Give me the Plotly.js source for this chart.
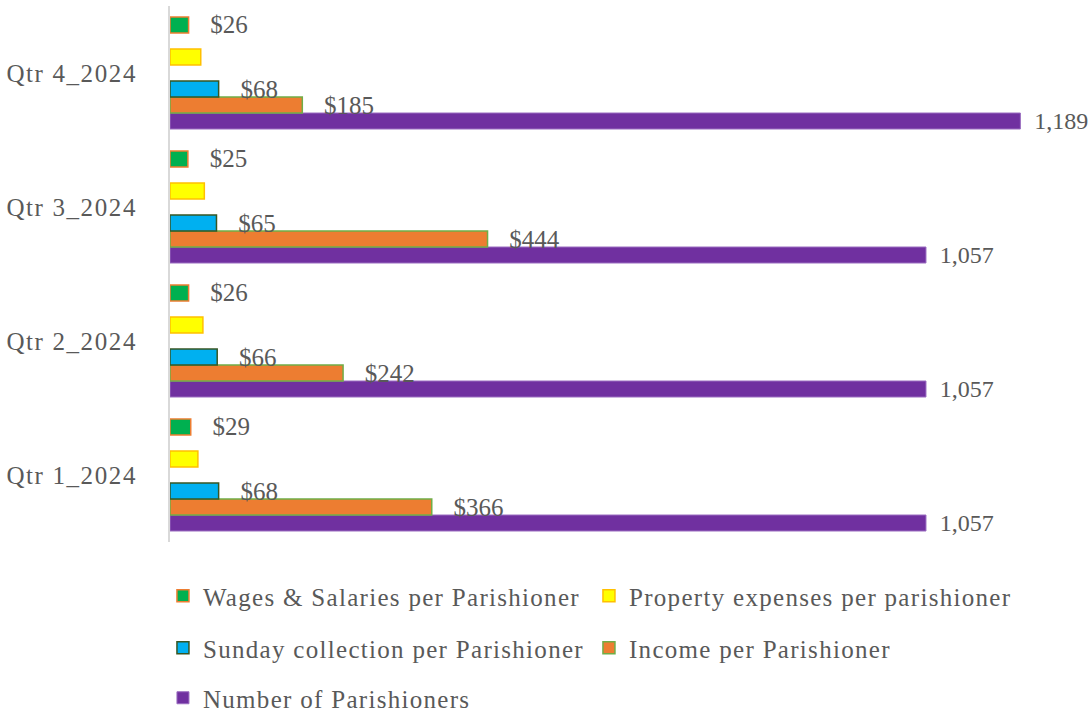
<!DOCTYPE html>
<html>
<head>
<meta charset="utf-8">
<script src="https://cdn.plot.ly/plotly-3.0.1.min.js"></script>
<style>
html,body{margin:0;padding:0;background:#fff;}
#chart{width:1090px;height:713px;}
</style>
</head>
<body>
<div id="chart"></div>
<script>
// Data
const quarters = ["Qtr 1_2024", "Qtr 2_2024", "Qtr 3_2024", "Qtr 4_2024"];
const wagesPerParishioner = [29, 26, 25, 26];
const propertyPerParishioner = [39, 46, 48, 43];
const sundayPerParishioner = [68, 66, 65, 68];
const incomePerParishioner = [366, 242, 444, 185];
const numberOfParishioners = [1057, 1057, 1057, 1189];
const emptySlot = [null, null, null, null];
const seriesNames = ["Wages & Salaries per Parishioner", "Property expenses per parishioner",
  "Sunday collection per Parishioner", "Income per Parishioner", "Number of Parishioners"];

const FONT = "Liberation Serif, DejaVu Serif, serif";
const TXT = "#595959";
const pad3 = "\u00a0\u00a0\u00a0";
const padNum = "\u00a0\u2009";

function barTrace(name, values, fill, line, lw, opts) {
  return Object.assign({
    type: "bar", orientation: "h", name: name, x: values, y: quarters,
    marker: {color: fill, line: {color: line, width: lw}},
    textposition: "outside", cliponaxis: false, constraintext: "none",
    textfont: {family: FONT, size: 25, color: TXT},
    hoverinfo: "x+name"
  }, opts || {});
}

const traces = [
  barTrace(seriesNames[4], numberOfParishioners, "#7030a0", "#9a6cc0", 1,
    {texttemplate: padNum + "%{x:,}", legend: "legend3", legendrank: 5,
     textfont: {family: FONT, size: 24, color: TXT}}),
  barTrace(seriesNames[3], incomePerParishioner, "#ed7d31", "#70ad47", 1.5,
    {texttemplate: pad3 + "$%{x}", legend: "legend2", legendrank: 4}),
  barTrace(seriesNames[2], sundayPerParishioner, "#00b0f0", "#375623", 1.5,
    {texttemplate: pad3 + "$%{x}", legend: "legend2", legendrank: 3}),
  barTrace("spacer1", emptySlot, "rgba(0,0,0,0)", "rgba(0,0,0,0)", 0,
    {showlegend: false, hoverinfo: "skip", textposition: "none"}),
  barTrace(seriesNames[1], propertyPerParishioner, "#ffff00", "#ffc000", 1.5,
    {textposition: "none", legend: "legend", legendrank: 2}),
  barTrace("spacer2", emptySlot, "rgba(0,0,0,0)", "rgba(0,0,0,0)", 0,
    {showlegend: false, hoverinfo: "skip", textposition: "none"}),
  barTrace(seriesNames[0], wagesPerParishioner, "#00b050", "#ed7d31", 1.5,
    {texttemplate: pad3 + "$%{x}", legend: "legend", legendrank: 1})
];

const legendBase = {
  orientation: "h", xref: "container", yref: "container",
  x: 0.1495, xanchor: "left", yanchor: "middle",
  font: {family: FONT, size: 25, color: TXT},
  entrywidth: 381, bgcolor: "rgba(0,0,0,0)", borderwidth: 0,
  traceorder: "normal"
};

const layout = {
  width: 1090, height: 713,
  margin: {l: 170, r: 26, t: 6, b: 171},
  paper_bgcolor: "#ffffff", plot_bgcolor: "#ffffff",
  font: {family: FONT, size: 25, color: TXT},
  barmode: "group", bargap: 0.164, bargroupgap: 0,
  showlegend: true,
  xaxis: {range: [0, 1250], showgrid: false, zeroline: false, showticklabels: false,
          showline: false, ticks: "", fixedrange: true},
  yaxis: {type: "category", categoryorder: "array", categoryarray: quarters,
          showgrid: false, zeroline: false, showline: true, linecolor: "#d9d9d9", linewidth: 2,
          ticks: "", ticklabelstandoff: 26, tickfont: {family: FONT, size: 25, color: TXT},
          fixedrange: true},
  legend: Object.assign({}, legendBase, {y: 1 - 596/713}),
  legend2: Object.assign({}, legendBase, {y: 1 - 648/713}),
  legend3: Object.assign({}, legendBase, {y: 1 - 698/713})
};

function spaceText() {
  document.querySelectorAll("#chart svg text").forEach(t => {
    const s = t.textContent;
    if (seriesNames.indexOf(s) >= 0) {
      t.setAttribute("letter-spacing", "1.3");
      t.style.letterSpacing = "1.3px";
    } else if (quarters.indexOf(s) >= 0) {
      t.setAttribute("letter-spacing", "1.6");
      t.style.letterSpacing = "1.6px";
    }
  });
}

Plotly.newPlot("chart", traces, layout, {displayModeBar: false, staticPlot: true}).then(gd => {
  spaceText();
  setTimeout(spaceText, 0);
  setTimeout(spaceText, 50);
  gd.on("plotly_afterplot", spaceText);
});
</script>
</body>
</html>
